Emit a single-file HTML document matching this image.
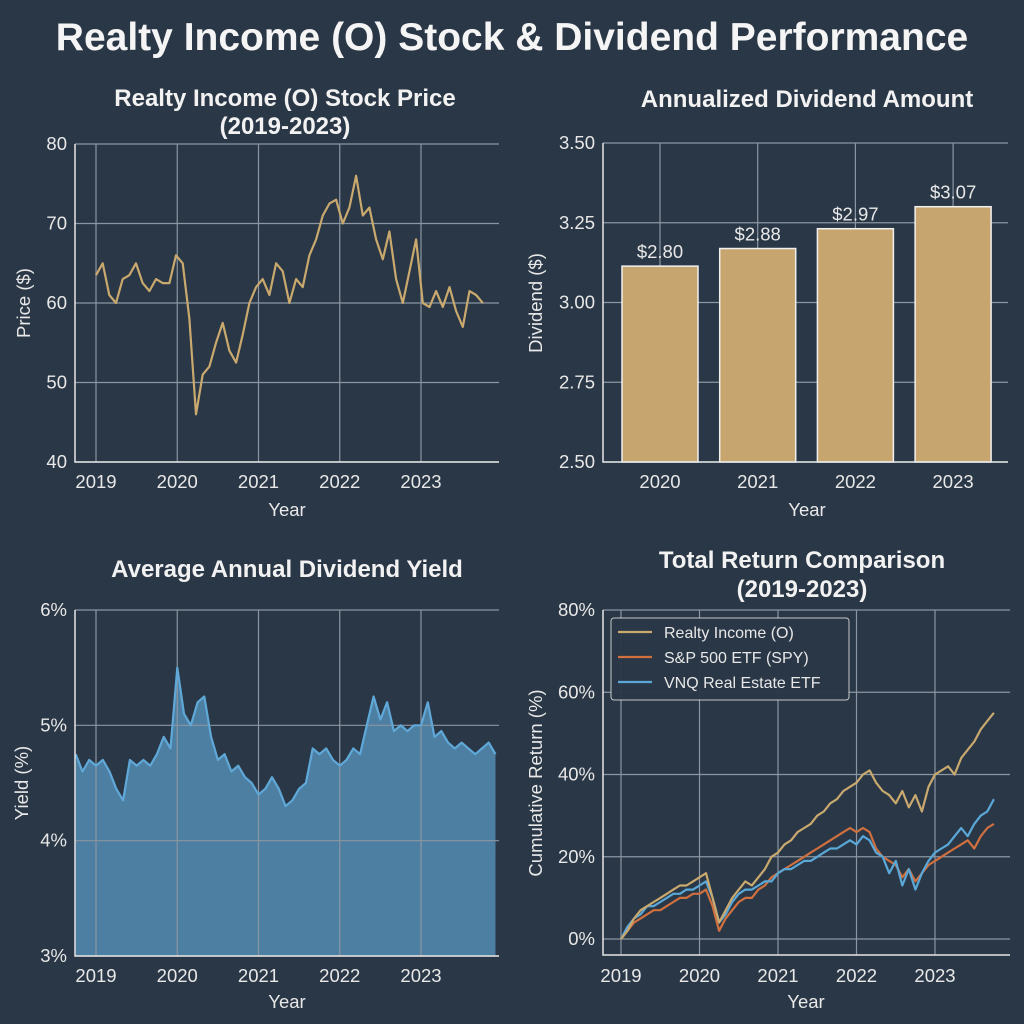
<!DOCTYPE html>
<html><head><meta charset="utf-8"><style>
body{margin:0;background:#2a3746;}
svg{display:block;font-family:"Liberation Sans",sans-serif;}
.tk{fill:#e8e8e8;font-size:18.5px;}
.st{fill:#f2f2f2;font-size:24px;font-weight:bold;}
.grid{stroke:#8c96a2;stroke-width:1.2;}
</style></head><body>
<svg id="c" width="1024" height="1024" viewBox="0 0 1024 1024">
<rect width="1024" height="1024" fill="#2a3746"/>
<text x="512" y="50" text-anchor="middle" fill="#f5f5f5" font-size="39" font-weight="bold">Realty Income (O) Stock &amp; Dividend Performance</text>
</svg>
<script>
// ---- data ----
const priceStart = 2019;
const priceValues = [63.5,65,61,60,63,63.5,65,62.5,61.5,63,62.5,62.5,66,65,58,46,51,52,55,57.5,54,52.5,56,60,62,63,61,65,64,60,63,62,66,68,71,72.5,73,70,72,76,71,72,68,65.5,69,63,60,64,68,60,59.5,61.5,59.5,62,59,57,61.5,61,60];
const dividendYears = ["2020","2021","2022","2023"];
const dividendValues = [2.80,2.88,2.97,3.07];
const yieldStart = 2018.75;
const yieldValues = [4.75,4.6,4.7,4.65,4.7,4.6,4.45,4.35,4.7,4.65,4.7,4.65,4.75,4.9,4.8,5.5,5.1,5.0,5.2,5.25,4.9,4.7,4.75,4.6,4.65,4.55,4.5,4.4,4.45,4.55,4.45,4.3,4.35,4.45,4.5,4.8,4.75,4.8,4.7,4.65,4.7,4.8,4.75,5.0,5.25,5.05,5.2,4.95,5.0,4.95,5.0,5.0,5.2,4.9,4.95,4.85,4.8,4.85,4.8,4.75,4.8,4.85,4.75];
const returnStart = 2019;
const returnO = [0,2,5,7,8,9,10,11,12,13,13,14,15,16,10,4,7,10,12,14,13,15,17,20,21,23,24,26,27,28,30,31,33,34,36,37,38,40,41,38,36,35,33,36,32,35,31,37,40,41,42,40,44,46,48,51,53,55];
const returnSPY = [0,2,4,5,6,7,7,8,9,10,10,11,11,12,8,2,5,7,9,10,10,12,13,15,16,17,18,19,20,21,22,23,24,25,26,27,26,27,26,22,20,19,18,15,17,14,16,18,19,20,21,22,23,24,22,25,27,28];
const returnVNQ = [0,3,5,6,8,8,9,10,11,11,12,12,13,14,10,4,6,9,11,12,12,13,14,14,16,17,17,18,19,19,20,21,22,22,23,24,23,25,24,21,20,16,19,13,17,12,16,19,21,22,23,25,27,25,28,30,31,34];
const yearTicks = [2019,2020,2021,2022,2023];
const priceTicks = [40,50,60,70,80];
const divTicks = [2.50,2.75,3.00,3.25,3.50];
const yieldTicks = [3,4,5,6];
const returnTicks = [0,20,40,60,80];

const svg = document.getElementById('c');
const NS = 'http://www.w3.org/2000/svg';
function mk(tag, attrs, parent){const e=document.createElementNS(NS,tag);for(const k in attrs)e.setAttribute(k,attrs[k]);(parent||svg).appendChild(e);return e;}
function lin(d0,d1,r0,r1){return v=>r0+(v-d0)/(d1-d0)*(r1-r0);}

function frame(name){
  const g=mk('g',{});
  
  
  return g;
}
function txt(g,x,y,s,cls,anchor,name,extra){
  const t=mk('text',Object.assign({x:x,y:y,class:cls,'text-anchor':anchor||'middle'},extra||{}),g);
  t.textContent=s;
  
  
  return t;
}
function axesBox(g,L,R,T,B,name){
  const p=mk('path',{d:`M${L},${T}V${B}H${R}`,fill:'none',stroke:'#e6e6e6','stroke-width':1.5},g);
  
  
}
function path(g,xs,ys,color,name){
  let d='';xs.forEach((x,i)=>{d+=(i?'L':'M')+x.toFixed(1)+','+ys[i].toFixed(1);});
  const p=mk('path',{d:d,fill:'none',stroke:color,'stroke-width':2.2,'stroke-linejoin':'round'},g);
  
  
}

// ---- Chart 1: price ----
(function(){
  const L=75,R=499,T=144,B=462;
  const g=frame('price-chart');
  const x=lin(2019,2023,96,421), y=lin(40,80,B,T);
  yearTicks.forEach(v=>{const l=mk('line',{x1:x(v),x2:x(v),y1:T,y2:B,class:'grid'},g);
    txt(g,x(v),488,String(v),'tk','middle','x-tick-label');});
  priceTicks.forEach(v=>{const l=mk('line',{x1:L,x2:R,y1:y(v),y2:y(v),class:'grid'},g);
    txt(g,L-8,y(v)+6,String(v),'tk','end','y-tick-label');});
  axesBox(g,L,R,T,B,'price-axes');
  path(g,priceValues.map((v,i)=>x(priceStart+i/12*0.985)),priceValues.map(y),'#c9a96e','price-line');
  txt(g,285,106,'Realty Income (O) Stock Price','st','middle','price-chart-title');
  txt(g,285,134,'(2019-2023)','st','middle','price-chart-subtitle');
  txt(g,287,516,'Year','tk','middle','x-axis-title');
  txt(g,30,303,'Price ($)','tk','middle','y-axis-title',{transform:'rotate(-90 30 303)'});
})();

// ---- Chart 2: dividend bars ----
(function(){
  const L=603,R=1008,T=143,B=462;
  const g=frame('dividend-chart');
  const y=lin(2.5,3.5,B,T);
  // bar tops in the reference follow a compressed scale relative to the axis
  const barTop=v=>y(3.114+(v-2.80)*0.69);
  const xc=i=>660+i*97.7;
  divTicks.forEach(v=>{const l=mk('line',{x1:L,x2:R,y1:y(v),y2:y(v),class:'grid'},g);
    txt(g,L-8,y(v)+6,v.toFixed(2),'tk','end','y-tick-label');});
  dividendYears.forEach((yr,i)=>{const l=mk('line',{x1:xc(i),x2:xc(i),y1:T,y2:B,class:'grid'},g);});
  dividendYears.forEach((yr,i)=>{
    const v=dividendValues[i];
    const top=barTop(v);
    const r=mk('rect',{x:xc(i)-38,y:top,width:76,height:B-top,fill:'#c6a66e',stroke:'#f0f0f0','stroke-width':1.5},g);
    
    
    txt(g,xc(i),top-8,'$'+v.toFixed(2),'tk','middle','bar-value-label');
    txt(g,xc(i),488,yr,'tk','middle','x-tick-label');
  });
  axesBox(g,L,R,T,B,'dividend-axes');
  txt(g,807,107,'Annualized Dividend Amount','st','middle','dividend-chart-title');
  txt(g,807,516,'Year','tk','middle','x-axis-title');
  txt(g,542,303,'Dividend ($)','tk','middle','y-axis-title',{transform:'rotate(-90 542 303)'});
})();

// ---- Chart 3: yield area ----
(function(){
  const L=75,R=499,T=610,B=956;
  const g=frame('yield-chart');
  const x=lin(2019,2023,96,421), y=lin(3,6,B,T);
  const xs=yieldValues.map((v,i)=>x(yieldStart+i/12)), ys=yieldValues.map(y);
  let d=`M${xs[0]},${B}`;xs.forEach((xx,i)=>d+=`L${xx.toFixed(1)},${ys[i].toFixed(1)}`);d+=`L${xs[xs.length-1]},${B}Z`;
  const a=mk('path',{d:d,fill:'#4d7fa3'},g);
  
  
  yearTicks.forEach(v=>{const l=mk('line',{x1:x(v),x2:x(v),y1:T,y2:B,class:'grid'},g);
    txt(g,x(v),982,String(v),'tk','middle','x-tick-label');});
  yieldTicks.forEach(v=>{const l=mk('line',{x1:L,x2:R,y1:y(v),y2:y(v),class:'grid'},g);
    txt(g,L-8,y(v)+6,v+'%','tk','end','y-tick-label');});
  path(g,xs,ys,'#5fa8d8','yield-line');
  axesBox(g,L,R,T,B,'yield-axes');
  txt(g,287,577,'Average Annual Dividend Yield','st','middle','yield-chart-title');
  txt(g,287,1008,'Year','tk','middle','x-axis-title');
  txt(g,28,783,'Yield (%)','tk','middle','y-axis-title',{transform:'rotate(-90 28 783)'});
})();

// ---- Chart 4: total return ----
(function(){
  const L=603,R=1010,T=610,B=955;
  const g=frame('return-chart');
  const x=lin(2019,2023,621,935), y=lin(0,80,939,610);
  yearTicks.forEach(v=>{const l=mk('line',{x1:x(v),x2:x(v),y1:T,y2:B,class:'grid'},g);
    txt(g,x(v),982,String(v),'tk','middle','x-tick-label');});
  returnTicks.forEach(v=>{const l=mk('line',{x1:L,x2:R,y1:y(v),y2:y(v),class:'grid'},g);
    txt(g,L-8,y(v)+6,v+'%','tk','end','y-tick-label');});
  axesBox(g,L,R,T,B,'return-axes');
  const xs=returnO.map((v,i)=>x(returnStart+i/12));
  path(g,xs,returnSPY.map(y),'#d0703f','spy-line');
  path(g,xs,returnVNQ.map(y),'#5aa8d8','vnq-line');
  path(g,xs,returnO.map(y),'#c9a96e','o-line');
  const lg=mk('g',{},g);
  
  
  const lb=mk('rect',{x:611,y:618,width:238,height:82,rx:3,fill:'#2a3746',stroke:'#d0d0d0','stroke-width':1,opacity:0.95},lg);
  
  
  [['Realty Income (O)','#c9a96e'],['S&P 500 ETF (SPY)','#d0703f'],['VNQ Real Estate ETF','#5aa8d8']].forEach((e,i)=>{
    const yy=632+i*25;
    const ln=mk('line',{x1:618,x2:652,y1:yy,y2:yy,stroke:e[1],'stroke-width':2.2},lg);
    
    
    const t=txt(lg,664,yy+6,e[0],'tk','start','legend-entry');
    t.style.fontSize='16px';
  });
  txt(g,802,568,'Total Return Comparison','st','middle','return-chart-title');
  txt(g,802,597,'(2019-2023)','st','middle','return-chart-subtitle');
  txt(g,806,1008,'Year','tk','middle','x-axis-title');
  txt(g,542,783,'Cumulative Return (%)','tk','middle','y-axis-title',{transform:'rotate(-90 542 783)'});
})();
</script>
</body></html>
